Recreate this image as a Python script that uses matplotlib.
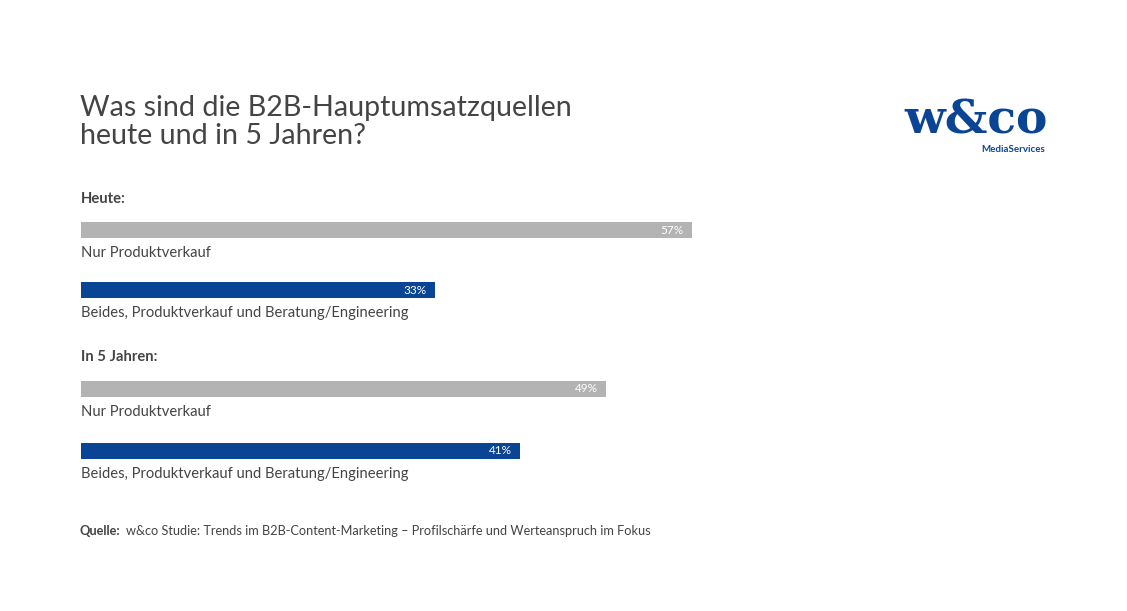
import matplotlib
matplotlib.use("Agg")
import matplotlib.pyplot as plt

plt.rcParams['font.family'] = ['Lato', 'DejaVu Sans']

groups = ["Heute:", "In 5 Jahren:"]
categories = ["Nur Produktverkauf", "Beides, Produktverkauf und Beratung/Engineering",
              "Nur Produktverkauf", "Beides, Produktverkauf und Beratung/Engineering"]
values = [57, 33, 49, 41]
colors = ["#b3b3b3", "#0a4595", "#b3b3b3", "#0a4595"]

W, H = 1127, 611
fig = plt.figure(figsize=(W/100, H/100), dpi=100)
fig.patch.set_facecolor("white")

ax = fig.add_axes([81/W, 0, 611/W, 1])
ax.set_xlim(0, 57)
ax.set_ylim(H, 0)
ax.axis("off")
ypos = [230, 290, 389, 451]
ax.barh(ypos, values, height=16, color=colors, left=0)
for y, v, c in zip(ypos, values, categories):
    ax.text(v - 0.8, y, f"{v}%", color="white", ha="right", va="center", fontsize=8.5)
    ax.text(0, y + 23, c, color="#444444", ha="left", va="center", fontsize=10.6)
ax.text(0, 199, groups[0], color="#444444", ha="left", va="center", fontsize=10.6, fontweight="bold")
ax.text(0, 357, groups[1], color="#444444", ha="left", va="center", fontsize=10.6, fontweight="bold")

def fy(p): return 1 - p / H

fig.text(80/W, fy(122), "Was sind die B2B-Hauptumsatzquellen\nheute und in 5 Jahren?",
         fontsize=20.6, color="#444444", ha="left", va="center", linespacing=1.05)
fig.text(80/W, fy(531), "Quelle:", fontsize=9.2, color="#444444", fontweight="bold", ha="left", va="center")
fig.text(126/W, fy(531), "w&co Studie: Trends im B2B-Content-Marketing – Profilschärfe und Werteanspruch im Fokus",
         fontsize=9.2, color="#444444", ha="left", va="center")

fig.text(976/W, fy(121), "w&co", fontsize=34, fontweight="bold", family=["DejaVu Serif"],
         color="#0a4595", ha="center", va="center")
fig.text(1045/W, fy(150), "MediaServices", fontsize=7, fontweight="bold", color="#0a4595",
         ha="right", va="center")

fig.savefig("out.png", dpi=100, facecolor="white")
